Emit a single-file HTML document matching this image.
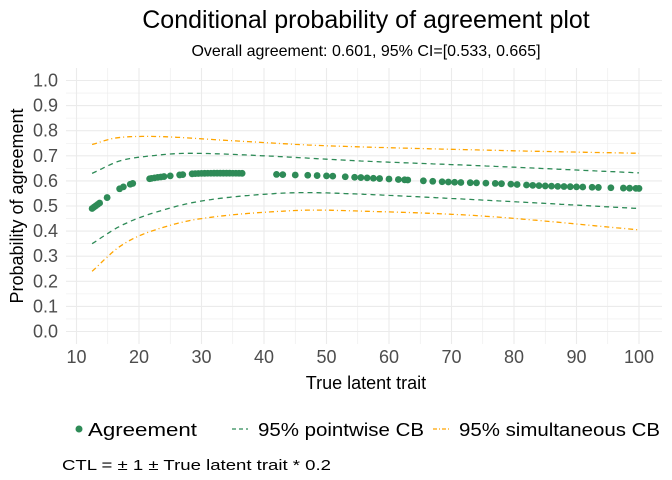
<!DOCTYPE html>
<html><head><meta charset="utf-8"><style>
html,body{margin:0;padding:0;background:#fff;}
svg{display:block;font-family:"Liberation Sans",sans-serif;}
</style></head><body>
<svg id="s" width="672" height="480" viewBox="0 0 672 480">
<rect width="672" height="480" fill="#fff"/>
<g id="grid"></g>
<g id="series"></g>
<text x="366" y="28" text-anchor="middle" font-size="25" fill="#000">Conditional probability of agreement plot</text>
<text x="366" y="56" text-anchor="middle" font-size="16" fill="#000">Overall agreement: 0.601, 95% CI=[0.533, 0.665]</text>
<g id="ticks" font-size="18" fill="#4d4d4d"></g>
<text x="366" y="389" text-anchor="middle" font-size="18" fill="#000">True latent trait</text>
<text transform="translate(23,206) rotate(-90)" text-anchor="middle" font-size="18" fill="#000">Probability of agreement</text>
<circle cx="79" cy="429" r="3.5" fill="#2e8b57"/>
<text x="88" y="436" font-size="18" textLength="109" lengthAdjust="spacingAndGlyphs">Agreement</text>
<line x1="232" y1="429" x2="248" y2="429" stroke="#2e8b57" stroke-width="1.3" stroke-dasharray="4,3"/>
<text x="258" y="436" font-size="18" textLength="166" lengthAdjust="spacingAndGlyphs">95% pointwise CB</text>
<line x1="433" y1="429" x2="449" y2="429" stroke="#ffa500" stroke-width="1.3" stroke-dasharray="4,2,1,2"/>
<text x="459" y="436" font-size="18" textLength="201" lengthAdjust="spacingAndGlyphs">95% simultaneous CB</text>
<text x="62" y="470" font-size="15" textLength="269" lengthAdjust="spacingAndGlyphs">CTL = ± 1 ± True latent trait * 0.2</text>
</svg>
<script>
const X=v=>76.5+(v-10)*6.25, Y=v=>331.5-v*251;
const NS="http://www.w3.org/2000/svg";
function el(p,t,a){const e=document.createElementNS(NS,t);for(const k in a)e.setAttribute(k,a[k]);p.appendChild(e);return e;}
const g=document.getElementById('grid'),tk=document.getElementById('ticks'),s=document.getElementById('series');
const L=66,R=662,T=68,B=344;
for(let v=0;v<=1.0001;v+=0.05){const y=Y(v),maj=Math.round(v*20)%2==0;el(g,'line',{x1:L,x2:R,y1:y,y2:y,stroke:'#ebebeb','stroke-width':maj?1.1:0.55});
 if(maj){const t=el(tk,'text',{x:58,y:y+6,'text-anchor':'end'});t.textContent=v.toFixed(1);}}
for(let v=10;v<=100;v+=5){const x=X(v),maj=v%10==0;el(g,'line',{x1:x,x2:x,y1:T,y2:B,stroke:'#ebebeb','stroke-width':maj?1.1:0.55});
 if(maj){const t=el(tk,'text',{x:x,y:363,'text-anchor':'middle'});t.textContent=v;}}
function interp(p,x){const n=p.length;for(let i=0;i<n-1;i++){if(x>=p[i][0]&&x<=p[i+1][0]){
 const x0=p[i][0],x1=p[i+1][0],y0=p[i][1],y1=p[i+1][1],h=x1-x0;
 const m=j=>{if(j<=0)return (p[1][1]-p[0][1])/(p[1][0]-p[0][0]);if(j>=n-1)return (p[n-1][1]-p[n-2][1])/(p[n-1][0]-p[n-2][0]);return (p[j+1][1]-p[j-1][1])/(p[j+1][0]-p[j-1][0]);};
 const t=(x-x0)/h,t2=t*t,t3=t2*t;return (2*t3-3*t2+1)*y0+(t3-2*t2+t)*h*m(i)+(-2*t3+3*t2)*y1+(t3-t2)*h*m(i+1);}}return p[n-1][1];}
function curve(pts,col,dash){let d='';for(let x=12.5;x<=100;x+=0.5){d+=(d?'L':'M')+X(x).toFixed(1)+','+Y(interp(pts,x)).toFixed(1);}el(s,'path',{d:d,fill:'none',stroke:col,'stroke-width':1.3,'stroke-dasharray':dash});}
curve([[12.5,0.745],[16,0.77],[20,0.777],[25,0.775],[35,0.76],[50,0.74],[80,0.72],[100,0.71]],'#ffa500','5,3,1,3');
curve([[12.5,0.24],[17,0.34],[22,0.40],[30,0.45],[45,0.482],[55,0.48],[75,0.46],[100,0.405]],'#ffa500','5,3,1,3');
curve([[12.5,0.63],[17,0.68],[22,0.70],[28,0.71],[40,0.70],[55,0.68],[75,0.66],[100,0.632]],'#2e8b57','5,4');
curve([[12.5,0.35],[17,0.42],[22,0.47],[30,0.52],[42,0.55],[50,0.552],[70,0.53],[100,0.49]],'#2e8b57','5,4');
const mp=[[12.5,0.49],[14.7,0.53],[17,0.57],[19,0.59],[22,0.61],[27,0.625],[30,0.63],[37,0.63],[43,0.625],[50,0.62],[58,0.61],[62,0.605],[70,0.595],[77,0.59],[85,0.58],[92,0.575],[100,0.57]];
const xs=[12.5,12.8,13.1,13.4,13.7,14.9,16.9,17.5,18.6,19,21.7,22,22.5,23,23.5,24,25,26.5,27,28.5,29,29.5,30,30.5,31,31.5,32,32.5,33,33.5,34,34.5,35,35.5,36,36.5,42,43,45,47,48.5,50,51,53,54.5,55.5,56.5,57.5,58.5,60,61.5,62.5,63,65.5,67,68.5,69.5,70.5,71.5,73,74,75.5,77,78,79.5,80.5,82,83,84,85,86,87,88,89,90,91,92.5,93.5,95.5,97.5,98.5,99.5,100];
xs.forEach(x=>el(s,'circle',{cx:X(x),cy:Y(interp(mp,x)),r:3.4,fill:'#2e8b57'}));
</script>
</body></html>
